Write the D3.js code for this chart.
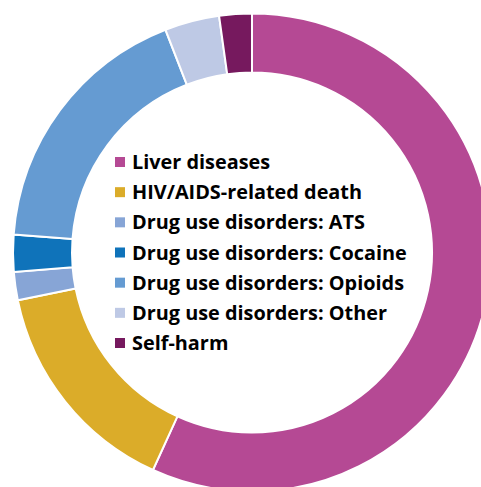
<!DOCTYPE html>
<html>
<head>
	<meta charset="utf-8">
	<title>Donut</title>
	<style>
		body { margin: 0; background: #fff; }
		svg text { font-family: "Open Sans", "DejaVu Sans", sans-serif; font-weight: 700; }
	</style>
</head>
<body>
	<svg width="481" height="487"></svg>
<script src="https://cdn.jsdelivr.net/npm/d3@7"></script>
<script>
	// categories and shares (%)
	const categories = ["Liver diseases", "HIV/AIDS-related death", "Drug use disorders: ATS",
		"Drug use disorders: Cocaine", "Drug use disorders: Opioids", "Drug use disorders: Other", "Self-harm"]
	const values = [56.8, 15.0, 1.9, 2.5, 17.9, 3.7, 2.2]
	const colors = ["#B54994", "#DBAC29", "#87A5D6", "#0F73BA", "#659BD2", "#BEC9E5", "#76195E"]

	let svg = d3.select("svg")
	let cx = 252, cy = 252.5

	//环
	let pie = d3.pie().sort(null).value(d => d)
	let arc = d3.arc().innerRadius(180).outerRadius(239)
	let g = svg.append("g").attr("transform", `translate(${cx}, ${cy})`)
	g.selectAll("path")
		.data(pie(values))
		.join("path")
		.attr("d", arc)
		.attr("fill", (d, i) => colors[i])
		.attr("stroke", "#fff")
		.attr("stroke-width", 2)

	//图例
	let y = d3.scalePoint().domain(categories).range([162, 343])
	let lg = svg.append("g")
	let item = lg.selectAll("g")
		.data(categories)
		.join("g")
		.attr("transform", d => `translate(115, ${y(d)})`)
	item.append("rect")
		.attr("x", 0).attr("y", -5).attr("width", 10).attr("height", 10)
		.attr("fill", (d, i) => colors[i])
	let txt = item.append("text")
		.attr("x", 17).attr("dy", "0.36em")
		.attr("font-size", 18)
		.attr("fill", "#000")
		.text(d => d)

	//字号按最长一行的宽度（约275px）调整
	let w = txt.filter((d, i) => i == 3).node().getComputedTextLength()
	txt.attr("font-size", 18 * 275 / w)
</script>
</body>
</html>
